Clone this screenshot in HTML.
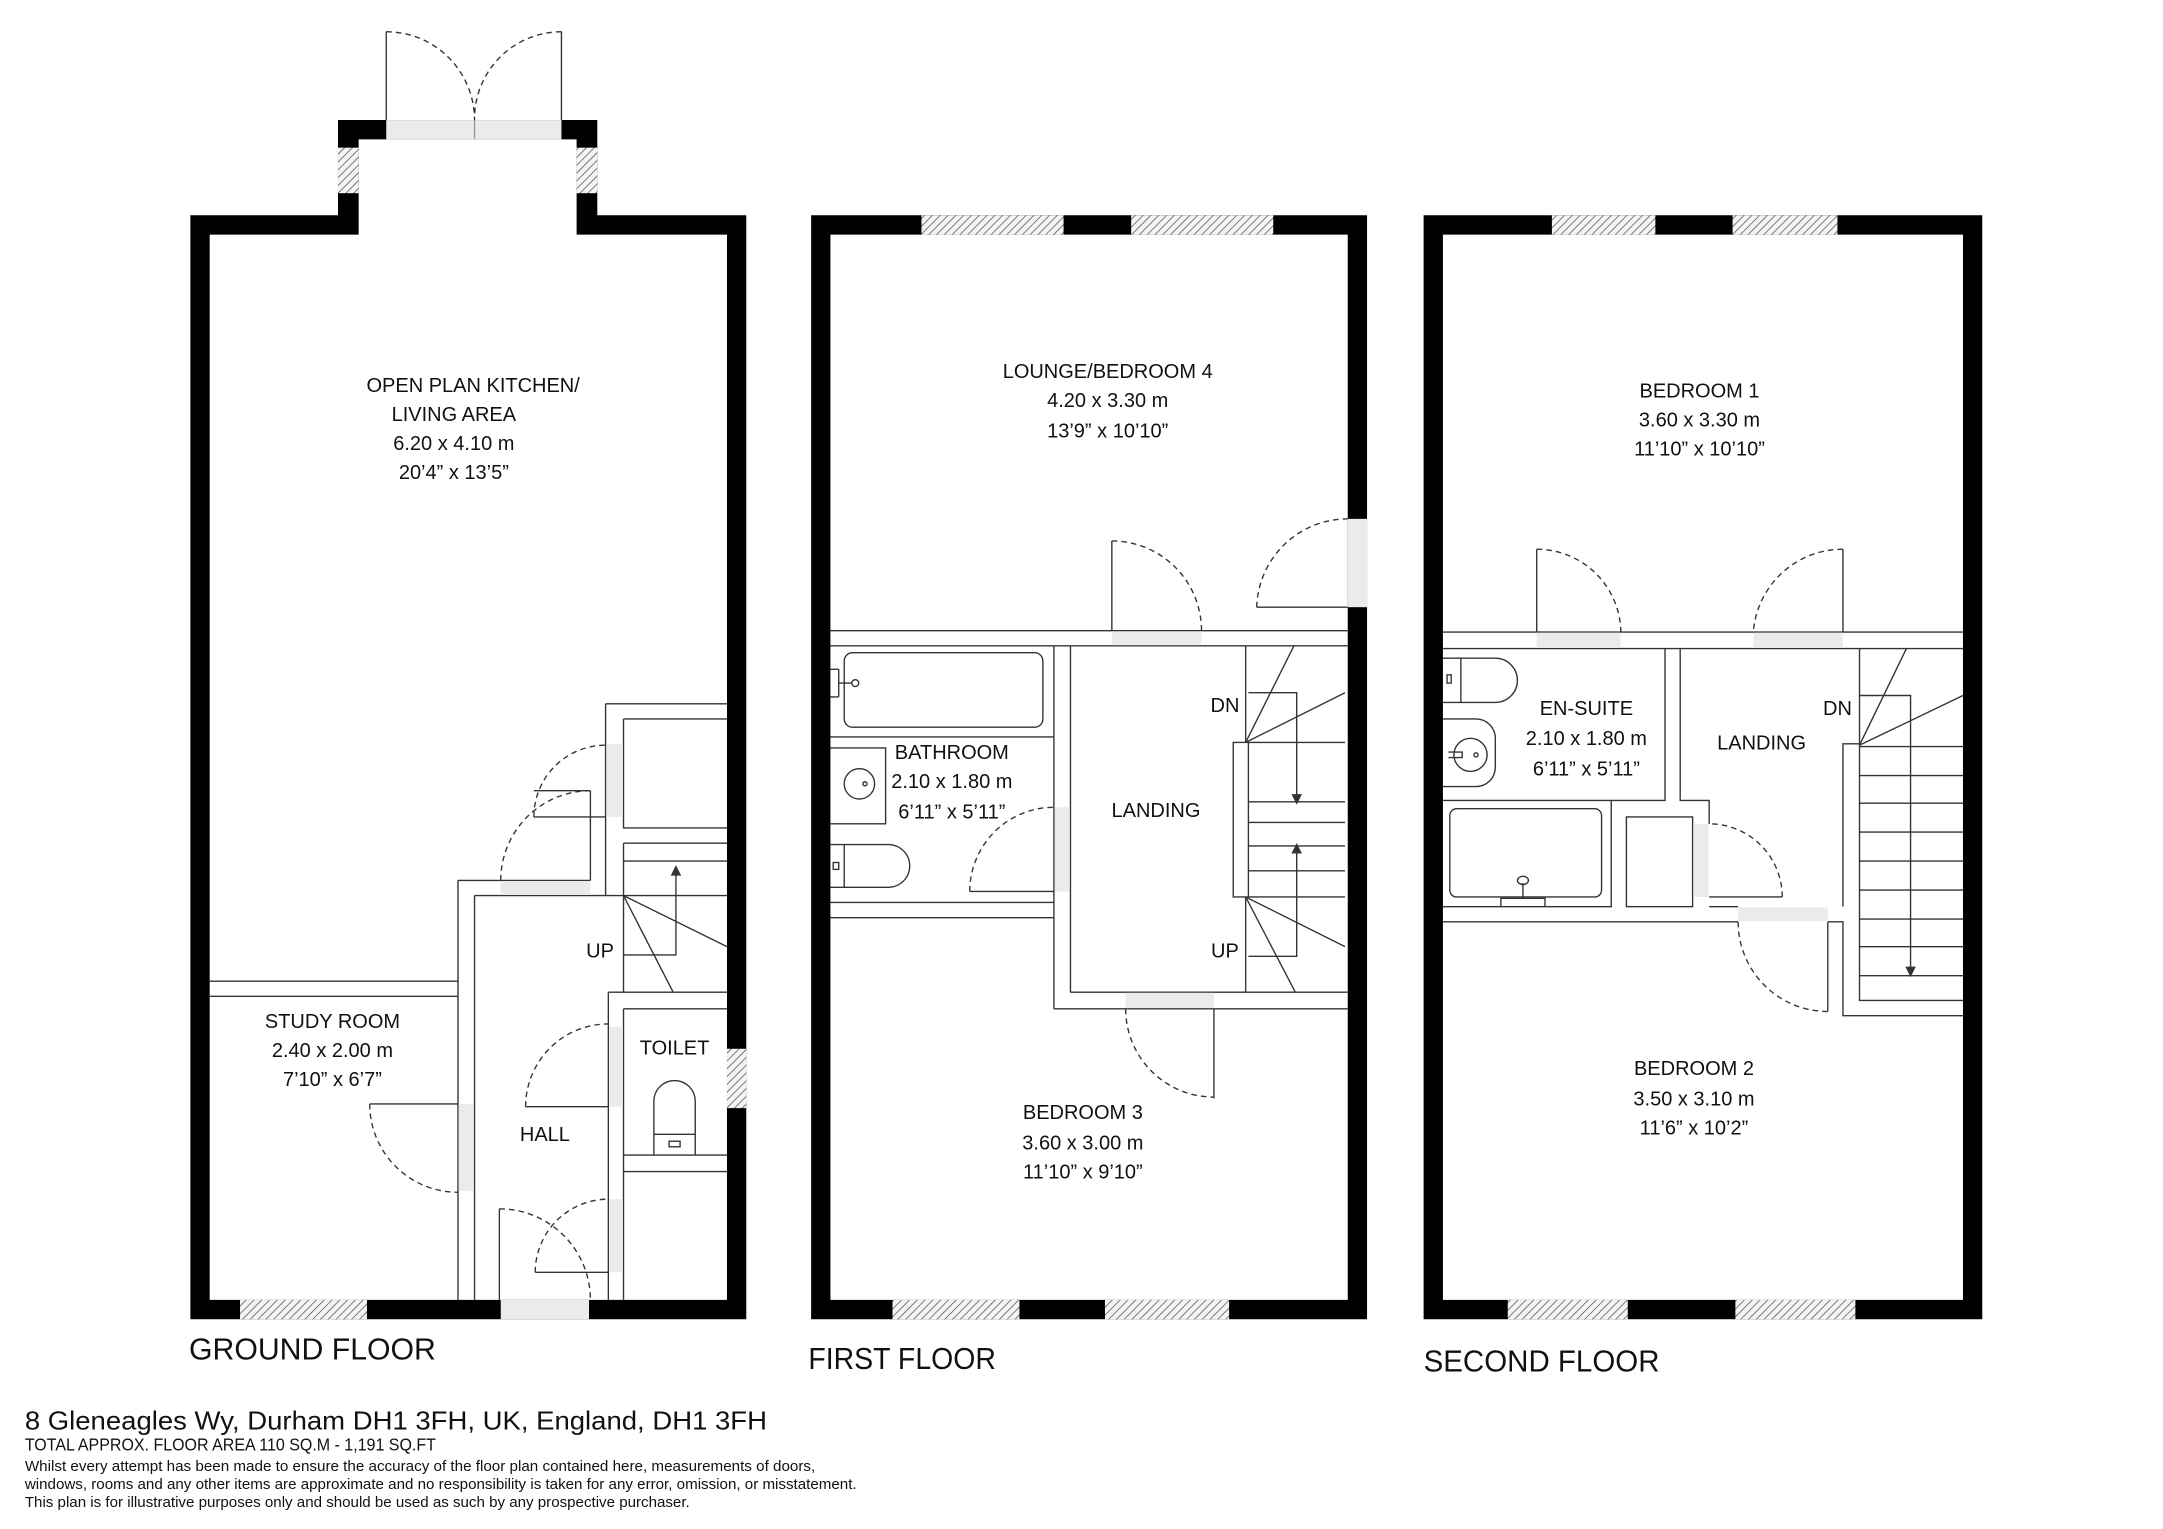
<!DOCTYPE html>
<html><head><meta charset="utf-8"><style>
html,body{margin:0;padding:0;background:#fff;}
svg{display:block;}
text{font-family:"Liberation Sans",sans-serif;fill:#111;}
</style></head><body>
<svg width="2163" height="1529" viewBox="0 0 1568 1108" preserveAspectRatio="none" xmlns="http://www.w3.org/2000/svg">
<defs>
<pattern id="h" width="4" height="4" patternUnits="userSpaceOnUse" patternTransform="rotate(45)">
<rect width="4" height="4" fill="#f4f4f4"/><line x1="0" y1="0" x2="0" y2="4" stroke="#555" stroke-width="1.1"/>
</pattern>
</defs>
<rect width="1568" height="1108" fill="#fff"/>
<g fill="none" stroke="#333" stroke-width="1">

<!-- ================= GROUND FLOOR ================= -->
<path fill="#000" stroke="none" fill-rule="evenodd" d="M138,156 H245 V87 H433 V156 H541 V956 H138 Z M152,170 H260 V101 H418 V170 H527 V942 H152 Z"/>
<rect x="280" y="87" width="127" height="14" fill="#ebebeb" stroke="none"/>
<line x1="344" y1="87" x2="344" y2="101" stroke="#999"/>
<rect x="245" y="107" width="15" height="33" fill="url(#h)" stroke="none"/>
<rect x="418" y="107" width="15" height="33" fill="url(#h)" stroke="none"/>
<rect x="174" y="942" width="92" height="14" fill="url(#h)" stroke="none"/>
<rect x="527" y="760" width="14" height="43" fill="url(#h)" stroke="none"/>
<rect x="363" y="942" width="64" height="14" fill="#ebebeb" stroke="none"/>
<line x1="280" y1="23" x2="280" y2="87"/><line x1="407" y1="23" x2="407" y2="87"/>
<path d="M280,23 A64,64 0 0 1 344,87 M407,23 A63,63 0 0 0 344,87" stroke-dasharray="4,3"/>

<path d="M152,711 H332 M152,722 H332"/>
<path d="M332,638 V942 M344,649 V942"/>
<rect x="332.5" y="800" width="11" height="63" fill="#ebebeb" stroke="none"/>
<path d="M268,800 H332"/><path d="M268,800 A64,64 0 0 0 332,864" stroke-dasharray="4,3"/>
<path d="M332,638 H428 M344,649 H452"/>
<rect x="363" y="638.5" width="65" height="10" fill="#ebebeb" stroke="none"/>
<path d="M428,573 V638 M387,573 H428"/>
<path d="M428,573 A65,65 0 0 0 363,638" stroke-dasharray="4,3"/>
<path d="M439,510 H527 M439,510 V649 M452,521 H527 M452,521 V600 H527"/>
<rect x="439.5" y="539" width="12" height="53" fill="#ebebeb" stroke="none"/>
<path d="M387,592 H439"/><path d="M387,592 A52,52 0 0 1 439,540" stroke-dasharray="4,3"/>
<path d="M452,611 H527 M452,624 H527 M452,649 H527 M452,611 V719"/>
<path d="M452,649 L488,719 M452,649 L527,686"/>
<path d="M452,692 H490 V632"/><path d="M487,634 L490,628 L493,634 Z" fill="#333"/>
<path d="M441,719 H527 M452,731 H527 M452,837 H527 M452,849 H527 M441,719 V942 M452,731 V942"/>
<rect x="441.5" y="744" width="10" height="58" fill="#ebebeb" stroke="none"/>
<rect x="441.5" y="869" width="10" height="53" fill="#ebebeb" stroke="none"/>
<path d="M381,802 H441"/><path d="M381,802 A60,60 0 0 1 441,742" stroke-dasharray="4,3"/>
<path d="M388,922 H441"/><path d="M388,922 A53,53 0 0 1 441,869" stroke-dasharray="4,3"/>
<path d="M362,876 V942"/><path d="M362,876 A66,66 0 0 1 428,942" stroke-dasharray="4,3"/>
<path d="M474,837 V798 A15,15 0 0 1 504,798 V837 M474,822 H504"/>
<rect x="485" y="827" width="8" height="4"/>

<!-- ================= FIRST FLOOR ================= -->
<path fill="#000" stroke="none" fill-rule="evenodd" d="M588,156 H991 V956 H588 Z M602,170 H977 V942 H602 Z"/>
<rect x="668" y="156" width="103" height="14" fill="url(#h)" stroke="none"/>
<rect x="820" y="156" width="103" height="14" fill="url(#h)" stroke="none"/>
<rect x="647" y="942" width="92" height="14" fill="url(#h)" stroke="none"/>
<rect x="801" y="942" width="90" height="14" fill="url(#h)" stroke="none"/>
<rect x="977" y="376" width="14" height="64" fill="#ebebeb" stroke="none"/>
<path d="M911,440 H977"/><path d="M911,440 A66,66 0 0 1 977,376" stroke-dasharray="4,3"/>
<path d="M602,457 H977 M602,468 H977"/>
<rect x="806" y="457.5" width="65" height="10" fill="#ebebeb" stroke="none"/>
<path d="M806,392 V457"/><path d="M806,392 A65,65 0 0 1 871,457" stroke-dasharray="4,3"/>
<path d="M764,468 V731 M776,468 V719"/>
<path d="M602,654 H764 M602,665 H764"/>
<path d="M776,719 H977 M764,731 H977"/>
<rect x="816" y="719.5" width="64" height="11" fill="#ebebeb" stroke="none"/>
<path d="M880,731 V796"/><path d="M816,731 A64,64 0 0 0 880,795" stroke-dasharray="4,3"/>
<rect x="764.5" y="585" width="11" height="61" fill="#ebebeb" stroke="none"/>
<path d="M703,646 H764"/><path d="M703,646 A61,61 0 0 1 764,585" stroke-dasharray="4,3"/>
<rect x="612" y="473" width="144" height="54" rx="6"/>
<path d="M602,534 H764"/>
<path d="M602,485 H608 M602,505 H608 M608,485 V505 M608,495 H618"/><circle cx="620" cy="495" r="2.5"/>
<path d="M602,542 H642 V597 H602"/><circle cx="623" cy="568" r="11"/><circle cx="627" cy="568" r="1.5"/>
<path d="M602,612 H644 A15.5,15.5 0 0 1 644,643 H602 M612,612 V643"/><rect x="604" y="625" width="4" height="5"/>
<path d="M903,468 V538 M903,650 V719"/>
<rect x="894" y="538" width="11" height="112"/>
<path d="M905,538 H975 M905,581 H975 M905,596 H975 M905,613 H975 M905,631 H975 M905,650 H975"/>
<path d="M905,502 H940 V578 M905,693 H940 V616"/>
<path d="M937,576 L940,582 L943,576 Z M937,618 L940,612 L943,618 Z" fill="#333"/>
<path d="M903,538 L938,468 M903,538 L975,502 M903,650 L939,719 M903,650 L975,686"/>

<!-- ================= SECOND FLOOR ================= -->
<path fill="#000" stroke="none" fill-rule="evenodd" d="M1032,156 H1437 V956 H1032 Z M1046,170 H1423 V942 H1046 Z"/>
<rect x="1125" y="156" width="75" height="14" fill="url(#h)" stroke="none"/>
<rect x="1256" y="156" width="76" height="14" fill="url(#h)" stroke="none"/>
<rect x="1093" y="942" width="87" height="14" fill="url(#h)" stroke="none"/>
<rect x="1258" y="942" width="87" height="14" fill="url(#h)" stroke="none"/>
<path d="M1046,458 H1423 M1046,470 H1423"/>
<rect x="1114" y="458.5" width="61" height="11" fill="#ebebeb" stroke="none"/>
<rect x="1271" y="458.5" width="65" height="11" fill="#ebebeb" stroke="none"/>
<path d="M1114,398 V458"/><path d="M1114,398 A61,61 0 0 1 1175,458" stroke-dasharray="4,3"/>
<path d="M1336,398 V458"/><path d="M1336,398 A65,65 0 0 0 1271,458" stroke-dasharray="4,3"/>
<path d="M1207,470 V580 H1046 M1218,470 V580 H1239 V597"/>
<path d="M1168,580 V657 H1046 M1046,668 H1260"/>
<rect x="1051" y="586" width="110" height="64" rx="5"/>
<path d="M1088,657 V651 H1120 V657 M1104,651 V640"/><ellipse cx="1104" cy="638" rx="4" ry="3"/>
<rect x="1179" y="592" width="48" height="65"/>
<rect x="1227.5" y="597" width="11" height="53" fill="#ebebeb" stroke="none"/>
<path d="M1239,650 H1292 M1239,657 H1260"/><path d="M1292,650 A53,53 0 0 0 1239,597" stroke-dasharray="4,3"/>
<rect x="1260" y="657.5" width="65" height="10" fill="#ebebeb" stroke="none"/>
<path d="M1325,668 V733"/><path d="M1260,668 A65,65 0 0 0 1325,733" stroke-dasharray="4,3"/>
<path d="M1325,668 H1336 V736 H1423 M1336,657 V539 H1348 M1348,470 V539 M1348,539 V725 H1423"/>
<path d="M1348,541 H1423 M1348,562 H1423 M1348,582 H1423 M1348,603 H1423 M1348,624 H1423 M1348,645 H1423 M1348,666 H1423 M1348,686 H1423 M1348,707 H1423"/>
<path d="M1348,504 H1385 V703"/><path d="M1382,701 L1385,707 L1388,701 Z" fill="#333"/>
<path d="M1348,540 L1382,470 M1348,540 L1423,504"/>
<path d="M1046,477 H1084 A16,16 0 0 1 1084,509 H1046 M1059,477 V509"/><rect x="1049" y="489" width="3" height="6"/>
<path d="M1046,521 H1070 A14,14 0 0 1 1084,535 V556 A14,14 0 0 1 1070,570 H1046"/>
<circle cx="1066" cy="547" r="12"/><circle cx="1070" cy="547" r="1.5"/><path d="M1050,545 H1060 V549 H1050"/>
</g>

<g font-size="14.5" text-anchor="middle">
<text x="343" y="284">OPEN PLAN KITCHEN/</text>
<text x="329" y="305">LIVING AREA</text>
<text x="329" y="326">6.20 x 4.10 m</text>
<text x="329" y="347">20’4” x 13’5”</text>
<text x="241" y="745">STUDY ROOM</text>
<text x="241" y="766">2.40 x 2.00 m</text>
<text x="241" y="787">7’10” x 6’7”</text>
<text x="395" y="827">HALL</text>
<text x="489" y="764">TOILET</text>
<text x="435" y="694">UP</text>
<text x="803" y="274">LOUNGE/BEDROOM 4</text>
<text x="803" y="295">4.20 x 3.30 m</text>
<text x="803" y="317">13’9” x 10’10”</text>
<text x="690" y="550">BATHROOM</text>
<text x="690" y="571">2.10 x 1.80 m</text>
<text x="690" y="593">6’11” x 5’11”</text>
<text x="838" y="592">LANDING</text>
<text x="888" y="516">DN</text>
<text x="888" y="694">UP</text>
<text x="785" y="811">BEDROOM 3</text>
<text x="785" y="833">3.60 x 3.00 m</text>
<text x="785" y="854">11’10” x 9’10”</text>
<text x="1232" y="288">BEDROOM 1</text>
<text x="1232" y="309">3.60 x 3.30 m</text>
<text x="1232" y="330">11’10” x 10’10”</text>
<text x="1150" y="518">EN-SUITE</text>
<text x="1150" y="540">2.10 x 1.80 m</text>
<text x="1150" y="562">6’11” x 5’11”</text>
<text x="1277" y="543">LANDING</text>
<text x="1332" y="518">DN</text>
<text x="1228" y="779">BEDROOM 2</text>
<text x="1228" y="801">3.50 x 3.10 m</text>
<text x="1228" y="822">11’6” x 10’2”</text>
</g>
<g font-size="22">
<text x="137" y="985" textLength="179" lengthAdjust="spacingAndGlyphs">GROUND FLOOR</text>
<text x="586" y="992" textLength="136" lengthAdjust="spacingAndGlyphs">FIRST FLOOR</text>
<text x="1032" y="994" textLength="171" lengthAdjust="spacingAndGlyphs">SECOND FLOOR</text>
</g>
<text x="18" y="1036" font-size="19" textLength="538" lengthAdjust="spacingAndGlyphs">8 Gleneagles Wy, Durham DH1 3FH, UK, England, DH1 3FH</text>
<text x="18" y="1051" font-size="12.5" textLength="298" lengthAdjust="spacingAndGlyphs">TOTAL APPROX. FLOOR AREA 110 SQ.M - 1,191 SQ.FT</text>
<g font-size="10.5">
<text x="18" y="1066" textLength="573" lengthAdjust="spacingAndGlyphs">Whilst every attempt has been made to ensure the accuracy of the floor plan contained here, measurements of doors,</text>
<text x="18" y="1079" textLength="603" lengthAdjust="spacingAndGlyphs">windows, rooms and any other items are approximate and no responsibility is taken for any error, omission, or misstatement.</text>
<text x="18" y="1092" textLength="482" lengthAdjust="spacingAndGlyphs">This plan is for illustrative purposes only and should be used as such by any prospective purchaser.</text>
</g>
</svg>
</body></html>
